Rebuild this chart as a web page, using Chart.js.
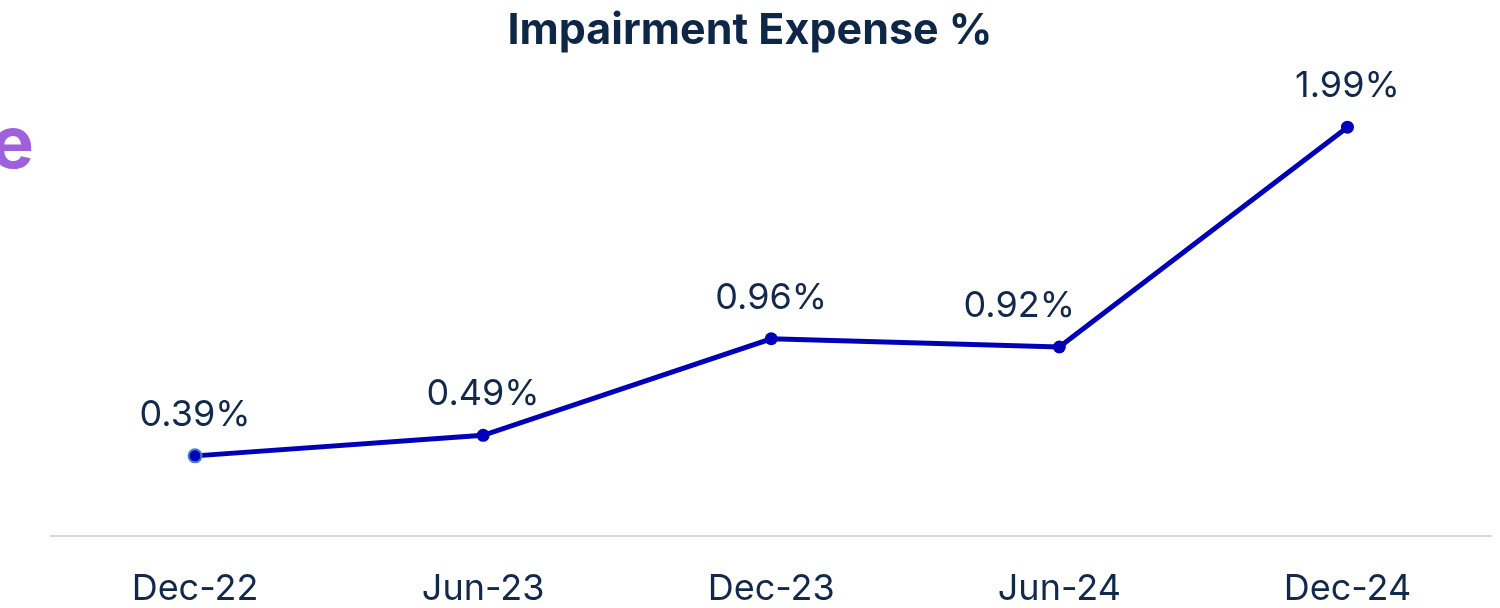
<!DOCTYPE html>
<html><head><meta charset="utf-8">
<script src="https://cdn.jsdelivr.net/npm/chart.js@4"></script>
<style>html,body{margin:0;padding:0;background:#fff;}#wrap{width:1500px;height:608px;position:relative;}</style>
</head><body><div id="wrap"><canvas id="c" width="1500" height="608" style="width:1500px;height:608px"></canvas></div>
<script>
const categories = ["Dec-22", "Jun-23", "Dec-23", "Jun-24", "Dec-24"];
const values = [0.39, 0.49, 0.96, 0.92, 1.99];
const valueLabels = ["0.39%", "0.49%", "0.96%", "0.92%", "1.99%"];
const chartTitle = "Impairment Expense %";
const sideText = "e";

const navy = "#13294b";
const lineBlue = "#0000b8";

const overlay = {
  id: "overlay",
  afterDatasetsDraw(chart, args, opts) {
    const ctx = chart.ctx;
    const meta = chart.getDatasetMeta(0);
    const shift = opts.labelShift || [];
    ctx.save();
    ctx.fillStyle = navy;
    ctx.font = "400 36px Inter";
    ctx.textAlign = "center";
    ctx.textBaseline = "alphabetic";
    meta.data.forEach((pt, i) => {
      ctx.fillText(valueLabels[i], pt.x + (shift[i] || 0), pt.y - 30);
    });
    ctx.restore();
  },
  afterDraw(chart) {
    const ctx = chart.ctx;
    ctx.save();
    ctx.fillStyle = "#0f2747";
    ctx.font = "700 43px Inter";
    ctx.textAlign = "center";
    ctx.textBaseline = "alphabetic";
    ctx.fillText(chartTitle, 750, 44);
    ctx.fillStyle = "#a060dc";
    ctx.font = "700 72px Inter";
    ctx.textAlign = "right";
    ctx.fillText(sideText, 34, 168);
    ctx.restore();
  }
};

new Chart(document.getElementById("c"), {
  type: "line",
  data: {
    labels: categories,
    datasets: [{
      data: values,
      borderColor: lineBlue,
      borderWidth: 5,
      backgroundColor: lineBlue,
      pointRadius: 6.5,
      pointBorderWidth: [2, 0, 0, 0, 0],
      pointBorderColor: ["#4a80d0", lineBlue, lineBlue, lineBlue, lineBlue],
      pointBackgroundColor: lineBlue,
      tension: 0,
      clip: false
    }]
  },
  options: {
    responsive: false,
    animation: false,
    devicePixelRatio: 1,
    layout: { padding: { left: 51, right: 4, top: 84, bottom: 0 } },
    plugins: {
      legend: { display: false }, title: { display: false }, tooltip: { enabled: false },
      overlay: { labelShift: [0, 0, 0, -40, 0] }
    },
    scales: {
      x: {
        offset: true,
        afterFit(scale) { scale.height = 72; scale.paddingLeft = 0; scale.paddingRight = 0; },
        grid: { display: false },
        border: { display: true, color: "#d9d9d9", width: 2 },
        ticks: { color: navy, font: { family: "Inter", size: 36, weight: "400" }, padding: 24, maxRotation: 0 }
      },
      y: { display: false, min: 0, max: 2.2 }
    }
  },
  plugins: [overlay]
});
</script>
</body></html>
